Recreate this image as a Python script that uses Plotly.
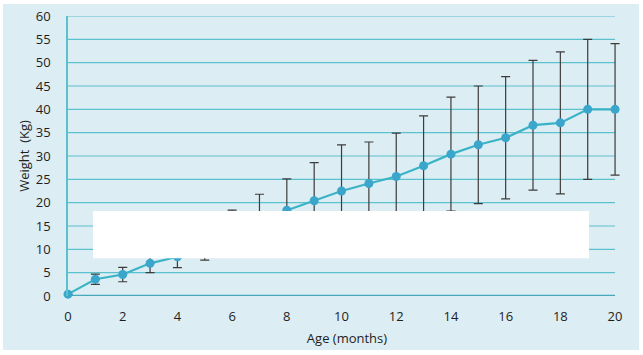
import plotly.graph_objects as go

age_months = [0, 1, 2, 3, 4, 5, 6, 7, 8, 9, 10, 11, 12, 13, 14, 15, 16, 17, 18, 19, 20]
weight_mean = [0.4, 3.6, 4.6, 7.0, 8.4, 11.2, 13.9, 16.3, 18.4, 20.4, 22.5, 24.1, 25.6, 27.9, 30.4, 32.4, 33.9, 36.6, 37.1, 40.0, 40.0]
weight_sd = [0.0, 1.1, 1.55, 2.0, 2.3, 3.5, 4.5, 5.5, 6.7, 8.2, 9.9, 8.9, 9.3, 10.7, 12.2, 12.6, 13.1, 13.9, 15.2, 15.0, 14.1]
y_ticks = [0, 5, 10, 15, 20, 25, 30, 35, 40, 45, 50, 55, 60]
x_ticks = [0, 2, 4, 6, 8, 10, 12, 14, 16, 18, 20]

BG = "#dcedf3"
TEAL_LINE = "#3bb3c6"
MARKER = "#3aa6cc"
GRID = "#5cc1cf"
AXIS = "#45a9ba"

X_MAX = x_ticks[-1]
X_PAD = 0.4
PX_PER_X = 547 / X_MAX
PLOT_W = 547 + X_PAD * PX_PER_X

fig = go.Figure()
fig.add_trace(go.Scatter(
    x=age_months, y=weight_mean,
    mode="lines+markers",
    line=dict(color=TEAL_LINE, width=2.2),
    marker=dict(color=MARKER, size=9),
    error_y=dict(type="data", array=weight_sd, visible=True,
                 color="#3c3c3c", thickness=1.2, width=4.5),
    cliponaxis=False,
    showlegend=False,
))

shapes = [
    dict(type="rect", xref="paper", yref="paper",
         x0=-65 / PLOT_W, x1=(643 - 68 - 4) / PLOT_W,
         y0=-(355 - 296 - 5) / 280, y1=(296 - 4) / 280,
         fillcolor=BG, line=dict(width=0), layer="below"),
]
for t in y_ticks:
    if t == 0:
        shapes.append(dict(type="line", xref="x", yref="y", x0=0, x1=X_MAX, y0=t, y1=t,
                           line=dict(color=AXIS, width=2.5), layer="below"))
    else:
        shapes.append(dict(type="line", xref="x", yref="y", x0=0, x1=X_MAX, y0=t, y1=t,
                           line=dict(color=GRID, width=1.2), layer="below"))
shapes.append(dict(type="rect", xref="paper", yref="paper",
                   x0=25 / PLOT_W, x1=521 / PLOT_W, y0=0.1346, y1=0.3036,
                   fillcolor="white", line=dict(width=0), layer="above"))

fig.update_layout(
    width=643, height=355,
    margin=dict(l=68, r=int(round(643 - 68 - PLOT_W)), t=16, b=59),
    paper_bgcolor="white",
    plot_bgcolor="rgba(0,0,0,0)",
    font=dict(family="Open Sans, sans-serif", size=13, color="#1e1e1e"),
    xaxis=dict(
        range=[0, X_MAX + X_PAD], tickvals=x_ticks, showgrid=False, zeroline=False,
        showline=False, ticks="outside", ticklen=8, tickcolor="rgba(0,0,0,0)",
        automargin=False,
        title=dict(text="Age (months)", standoff=10, font=dict(size=13)),
    ),
    yaxis=dict(
        range=[0, 60], tickvals=y_ticks, showgrid=False, zeroline=False,
        showline=True, linecolor=GRID, linewidth=1.5,
        ticks="outside", ticklen=13, tickcolor="rgba(0,0,0,0)",
        automargin=False,
        title=dict(text="Weight  (Kg)", standoff=3, font=dict(size=13)),
    ),
    shapes=shapes,
)

fig.write_html("out.html", post_script="document.body.style.margin='0';",
               config={"displayModeBar": False})
